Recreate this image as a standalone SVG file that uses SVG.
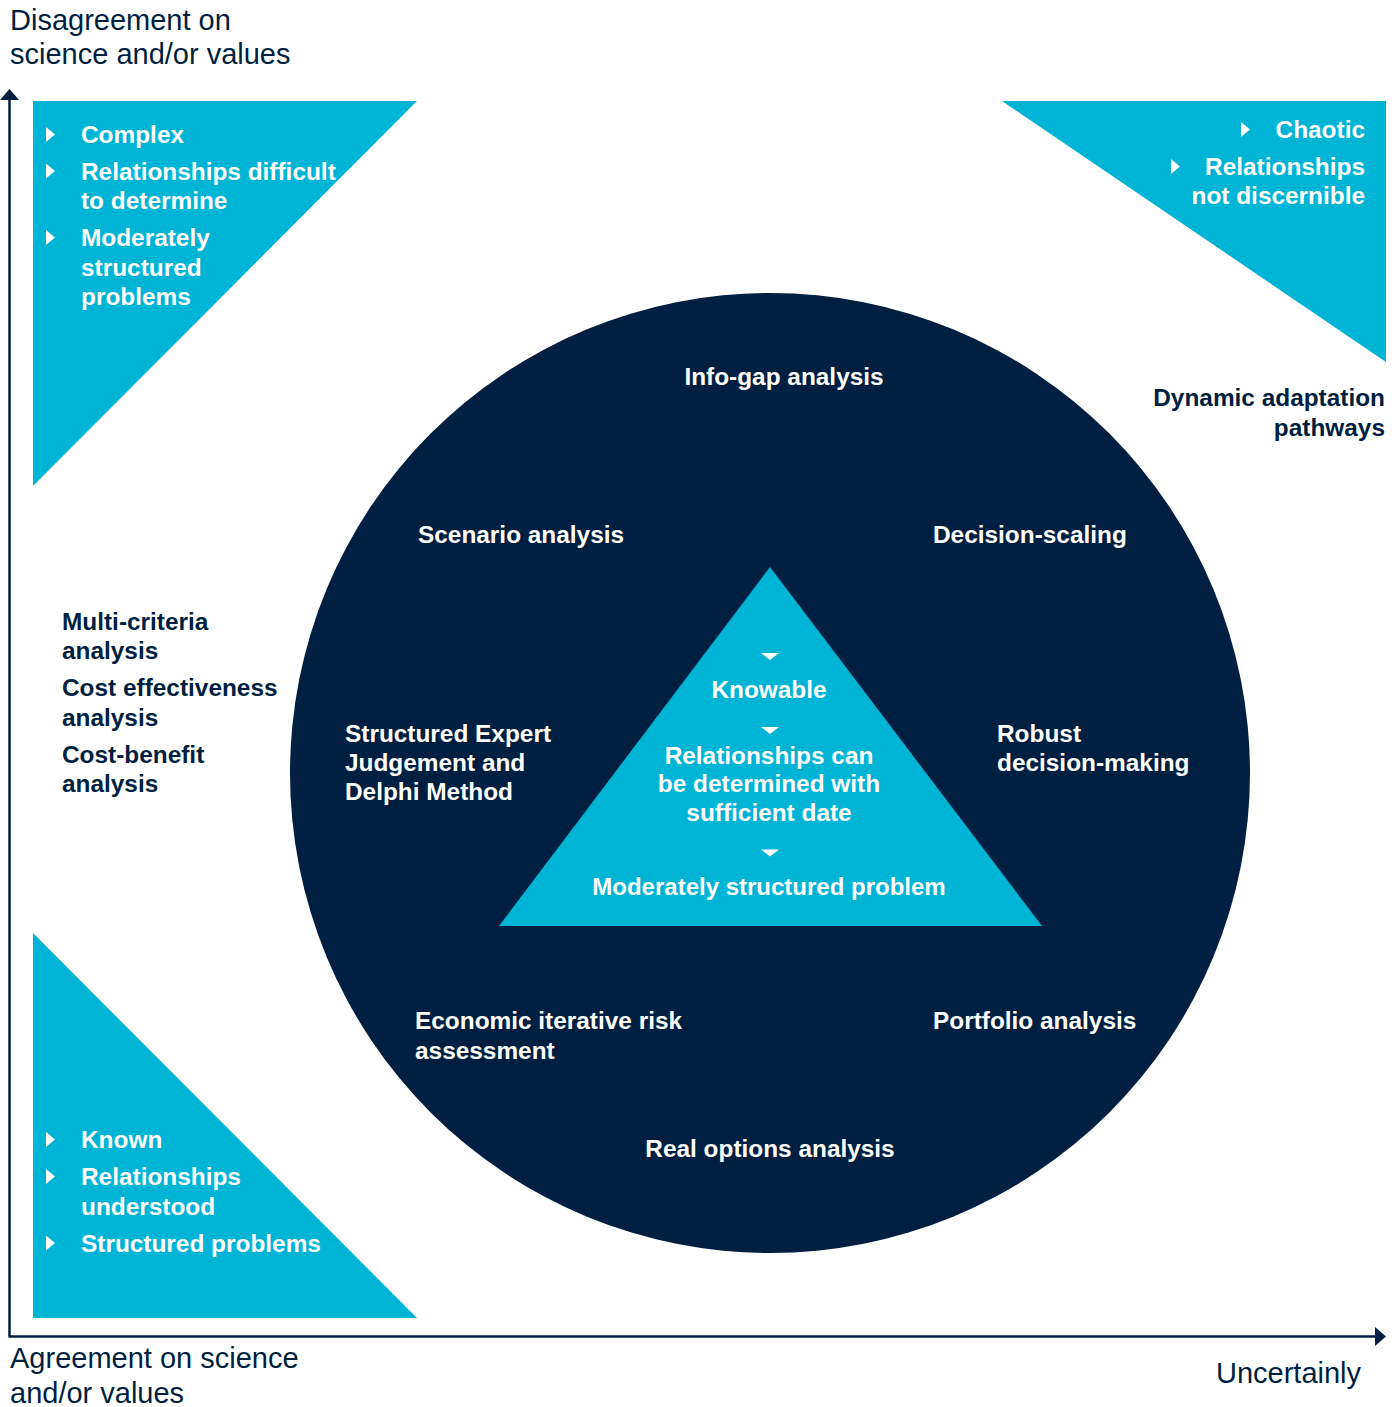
<svg xmlns="http://www.w3.org/2000/svg" width="1397" height="1407" viewBox="0 0 1397 1407">
<style>
.cy{fill:#00B4D6}
.nv{fill:#001F41}
.wb{fill:#fff;font-family:"Liberation Sans",Arial,sans-serif;font-weight:bold;font-size:24.4px}
.nb{fill:#001F41;font-family:"Liberation Sans",Arial,sans-serif;font-weight:bold;font-size:24.4px}
.ax{fill:#001F41;font-family:"Liberation Sans",Arial,sans-serif;font-size:29px}
.axis{stroke:#001F41;stroke-width:2.5;fill:none}
.bul{fill:#fff}
.sm{font-size:24px}
</style>
<defs>
<polygon id="br" points="0,-7.5 9,0 0,7.5"/>
<polygon id="bd" points="-9,-3.5 9,-3.5 0,3.5"/>
</defs>
<rect width="1397" height="1407" fill="#fff"/>
<g id="connectors">
<line class="axis" x1="9.5" y1="98" x2="9.5" y2="1336.5"/>
<polygon class="nv" points="9.5,89 0,100 19,100"/>
<line class="axis" x1="8.5" y1="1336.5" x2="1377" y2="1336.5"/>
<polygon class="nv" points="1386,1336.5 1375,1327 1375,1346"/>
</g>
<g id="axis-labels">
<text class="ax" x="10" y="30">Disagreement on</text>
<text class="ax" x="10" y="64">science and/or values</text>
<text class="ax" x="10" y="1368">Agreement on science</text>
<text class="ax" x="10" y="1403">and/or values</text>
<text class="ax" x="1216" y="1383">Uncertainly</text>
</g>
<g id="complex">
<polygon class="cy" points="33,101 417,101 33,486"/>
<use href="#br" class="bul" x="46" y="134.5"/>
<use href="#br" class="bul" x="46" y="171"/>
<use href="#br" class="bul" x="46" y="237.5"/>
<text class="wb" x="81" y="143">Complex</text>
<text class="wb" x="81" y="180">Relationships difficult</text>
<text class="wb" x="81" y="209">to determine</text>
<text class="wb" x="81" y="246">Moderately</text>
<text class="wb" x="81" y="275.5">structured</text>
<text class="wb" x="81" y="305">problems</text>
</g>
<g id="chaotic">
<polygon class="cy" points="1002,101 1386,101 1386,362"/>
<use href="#br" class="bul" x="1241" y="129.5"/>
<use href="#br" class="bul" x="1171" y="166.5"/>
<text class="wb" x="1365" y="138" text-anchor="end">Chaotic</text>
<text class="wb" x="1365" y="175" text-anchor="end">Relationships</text>
<text class="wb" x="1365" y="204" text-anchor="end">not discernible</text>
</g>
<g id="known">
<polygon class="cy" points="33,933 33,1318 417,1318"/>
<use href="#br" class="bul" x="46" y="1139.5"/>
<use href="#br" class="bul" x="46" y="1176.5"/>
<use href="#br" class="bul" x="46" y="1243"/>
<text class="wb" x="81" y="1148">Known</text>
<text class="wb" x="81" y="1185">Relationships</text>
<text class="wb" x="81" y="1215">understood</text>
<text class="wb" x="81" y="1252">Structured problems</text>
</g>
<g id="dynamic-adaptation">
<text class="nb" x="1385" y="406" text-anchor="end">Dynamic adaptation</text>
<text class="nb" x="1385" y="436" text-anchor="end">pathways</text>
</g>
<g id="left-methods">
<text class="nb" x="62" y="630">Multi-criteria</text>
<text class="nb" x="62" y="659">analysis</text>
<text class="nb" x="62" y="696">Cost effectiveness</text>
<text class="nb" x="62" y="726">analysis</text>
<text class="nb" x="62" y="763">Cost-benefit</text>
<text class="nb" x="62" y="792">analysis</text>
</g>
<g id="circle">
<circle class="nv" cx="770" cy="773" r="480"/>
<text class="wb" x="784" y="385" text-anchor="middle">Info-gap analysis</text>
<text class="wb" x="418" y="543">Scenario analysis</text>
<text class="wb" x="933" y="543">Decision-scaling</text>
<text class="wb" x="345" y="742">Structured Expert</text>
<text class="wb" x="345" y="771">Judgement and</text>
<text class="wb" x="345" y="800">Delphi Method</text>
<text class="wb" x="997" y="742">Robust</text>
<text class="wb" x="997" y="771">decision-making</text>
<text class="wb" x="415" y="1029">Economic iterative risk</text>
<text class="wb" x="415" y="1059">assessment</text>
<text class="wb" x="933" y="1029">Portfolio analysis</text>
<text class="wb" x="770" y="1157" text-anchor="middle">Real options analysis</text>
</g>
<g id="knowable">
<polygon class="cy" points="770,567 1042,926 499,926"/>
<use href="#bd" class="bul" x="770" y="656.5"/>
<use href="#bd" class="bul" x="770" y="730.5"/>
<use href="#bd" class="bul" x="770" y="853"/>
<text class="wb" x="769" y="698" text-anchor="middle">Knowable</text>
<text class="wb" x="769" y="764" text-anchor="middle">Relationships can</text>
<text class="wb" x="769" y="792" text-anchor="middle">be determined with</text>
<text class="wb" x="769" y="821" text-anchor="middle">sufficient date</text>
<text class="wb sm" x="769" y="895" text-anchor="middle">Moderately structured problem</text>
</g>
</svg>
